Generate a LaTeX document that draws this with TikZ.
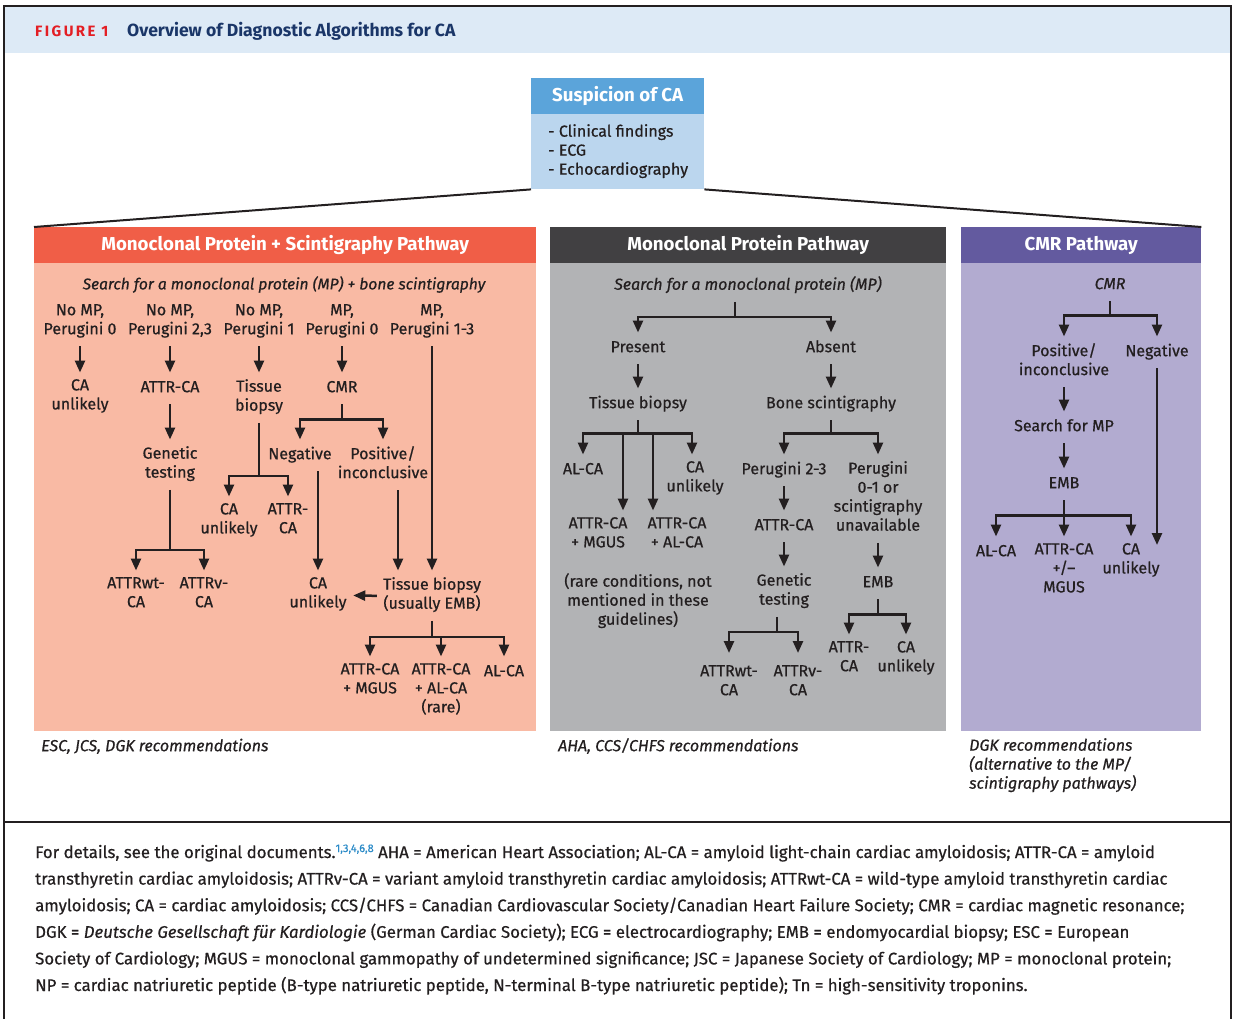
\documentclass[tikz,border=0pt]{standalone}
\usepackage{fontspec}
\setmainfont{Fira Sans}
\usetikzlibrary{arrows.meta,calc}
\definecolor{ink}{HTML}{231F20}
\definecolor{band}{HTML}{DDEAF6}
\definecolor{figred}{HTML}{E31E24}
\definecolor{navy}{HTML}{1A3668}
\definecolor{susph}{HTML}{5BA4DA}
\definecolor{suspb}{HTML}{BBD6EE}
\definecolor{ph1}{HTML}{F05E47}
\definecolor{pb1}{HTML}{F9BAA4}
\definecolor{ph2}{HTML}{414042}
\definecolor{pb2}{HTML}{B2B3B5}
\definecolor{ph3}{HTML}{635A9F}
\definecolor{pb3}{HTML}{B2ABD0}
\definecolor{supblue}{HTML}{2A8AC7}
\newcommand\mystrut{\rule[-6pt]{0pt}{19pt}}
\tikzset{
 txt/.style={font=\fontsize{16}{19}\selectfont\addfontfeatures{FakeBold=0.6}, text=ink, align=center, inner sep=0pt, anchor=north, execute at begin node=\mystrut, execute at end node=\mystrut},
 txti/.style={txt, font=\fontsize{16}{19}\selectfont\itshape\addfontfeatures{FakeBold=0.6}},
 link/.style={draw=ink, line width=2.5pt, -{Triangle[width=10pt,length=12pt]}, shorten <=6pt, shorten >=6.5pt},
 branch/.style={draw=ink, line width=2.5pt, -{Triangle[width=10pt,length=12pt]}, shorten >=6.5pt},
 stem/.style={draw=ink, line width=2.5pt, shorten <=6pt},
 boxhead/.style={anchor=north west, inner sep=0pt, text=white, font=\fontsize{18.7}{20}\selectfont\bfseries},
 boxbody/.style={anchor=north west, inner sep=0pt},
 capline/.style={anchor=base west, inner sep=0pt, text=ink, font=\fontsize{16.8}{20}\selectfont\addfontfeatures{FakeBold=0.6}},
}
\begin{document}
\begin{tikzpicture}[x=1pt,y=-1pt]
\useasboundingbox (0,0) rectangle (1236,1019);
% frame and header band
\fill[band] (4,6) rectangle (1231,53);
\draw[ink, line width=1.6pt] (4,1030) -- (4,6) -- (1231,6) -- (1231,1030);
\draw[ink, line width=1.6pt] (4,822) -- (1231,822);
\node[anchor=base west, inner sep=0pt, text=figred, font=\fontsize{15}{16}\selectfont\bfseries\addfontfeatures{LetterSpace=16}] (figlabel) at (35,37) {FIGURE 1};
\node[anchor=base west, inner sep=0pt, text=navy, font=\fontsize{17.6}{18}\selectfont\bfseries] (figtitle) at (127,37) {Overview of Diagnostic Algorithms for CA};

% suspicion box
\node[boxhead, fill=susph, minimum width=173pt, minimum height=36pt] (susph) at (531,78) {Suspicion of CA};
\node[boxbody, fill=suspb, minimum width=173pt, minimum height=75pt] (suspbody) at (531,114) {};
\node[txt, align=left, anchor=north west] (susplist) at (548,124) {- Clinical findings\\- ECG\\- Echocardiography};

% panels
\node[boxhead, fill=ph1, minimum width=502pt, minimum height=36pt] (p1head) at (34,227) {Monoclonal Protein + Scintigraphy Pathway};
\node[boxbody, fill=pb1, minimum width=502pt, minimum height=468pt] (p1body) at (34,263) {};
\node[boxhead, fill=ph2, minimum width=396pt, minimum height=36pt] (p2head) at (550,227) {Monoclonal Protein Pathway};
\node[boxbody, fill=pb2, minimum width=396pt, minimum height=468pt] (p2body) at (550,263) {};
\node[boxhead, fill=ph3, minimum width=240pt, minimum height=36pt] (p3head) at (961,227) {CMR Pathway};
\node[boxbody, fill=pb3, minimum width=240pt, minimum height=468pt] (p3body) at (961,263) {};

\draw[ink, line width=2pt] (suspbody.south west) -- (p1head.north west);
\draw[ink, line width=2pt] (suspbody.south east) -- (p3head.north east);

% ---------- panel 1 ----------
\node[txti, font=\fontsize{15.6}{19}\selectfont\itshape\addfontfeatures{FakeBold=0.6}] (s1) at (284,276) {Search for a monoclonal protein (MP) + bone scintigraphy};
\node[txt] (a1) at (80,304) {No MP,\\Perugini 0};
\node[txt] (a2) at (170,304) {No MP,\\Perugini 2,3};
\node[txt] (a3) at (259,304) {No MP,\\Perugini 1};
\node[txt] (a4) at (342,304) {MP,\\Perugini 0};
\node[txt] (a5) at (432,304) {MP,\\Perugini 1-3};
\node[txt] (b1) at (80,379) {CA\\unlikely};
\node[txt] (b2) at (170,379) {ATTR-CA};
\node[txt] (b3) at (259,379) {Tissue\\biopsy};
\node[txt] (b4) at (342,379) {CMR};
\node[txt] (c2) at (170,446) {Genetic\\testing};
\node[txt] (neg1) at (300,446) {Negative};
\node[txt] (pos1) at (383,446) {Positive/\\inconclusive};
\node[txt] (d1) at (229,503) {CA\\unlikely};
\node[txt] (d2) at (288,503) {ATTR-\\CA};
\node[txt] (e1) at (136,577) {ATTRwt-\\CA};
\node[txt] (e2) at (204,577) {ATTRv-\\CA};
\node[txt] (un1) at (318,577) {CA\\unlikely};
\node[txt] (tb) at (432,577) {Tissue biopsy\\(usually EMB)};
\node[txt] (f1) at (370,663) {ATTR-CA\\+ MGUS};
\node[txt] (f2) at (441,663) {ATTR-CA\\+ AL-CA\\(rare)};
\node[txt] (f3) at (504,663) {AL-CA};

\draw[link] (a1.south) -- (b1.north);
\draw[link] (a2.south) -- (b2.north);
\draw[link] (a3.south) -- (b3.north);
\draw[link] (a4.south) -- (b4.north);
\draw[link] (a5.south) -- (tb.north);
\draw[link] (b2.south) -- (c2.north);
\coordinate (cmrbar) at ($(b4.south)+(0,21)$);
\draw[stem] (b4.south) -- (cmrbar);
\draw[branch] (cmrbar) -| (neg1.north);
\draw[branch] (cmrbar) -| (pos1.north);
\coordinate (tisbar) at ($(b3.south)+(0,59)$);
\draw[stem] (b3.south) -- (tisbar);
\draw[branch] (tisbar) -| (d1.north);
\draw[branch] (tisbar) -| (d2.north);
\coordinate (genbar) at ($(c2.south)+(0,66)$);
\draw[stem] (c2.south) -- (genbar);
\draw[branch] (genbar) -| (e1.north);
\draw[branch] (genbar) -| (e2.north);
\draw[link] (neg1.south -| un1.north) -- (un1.north);
\coordinate (pl) at ($(pos1.south)+(15,0)$);
\draw[link] (pl) -- (pl |- tb.north);
\draw[link] (tb.west) -- (un1.east);
\coordinate (tbbar) at ($(tb.south)+(0,22)$);
\draw[stem] (tb.south) -- (tbbar);
\draw[branch] (tbbar) -| (f1.north);
\draw[branch] (tbbar) -| (f2.north);
\draw[branch] (tbbar) -| (f3.north);

% ---------- panel 2 ----------
\node[txti] (s2) at (748,276) {Search for a monoclonal protein (MP)};
\node[txt] (pr) at (638,339) {Present};
\node[txt] (ab) at (831,339) {Absent};
\node[txt] (tis2) at (638,395) {Tissue biopsy};
\node[txt] (bone) at (831,395) {Bone scintigraphy};
\node[txt] (al2) at (583,461) {AL-CA};
\node[txt] (cu2) at (695,461) {CA\\unlikely};
\node[txt] (p23) at (784,461) {Perugini 2-3};
\node[txt] (p01) at (878,461) {Perugini\\0-1 or\\scintigraphy\\unavailable};
\node[txt] (m2) at (598,517) {ATTR-CA\\+ MGUS};
\node[txt] (aa2) at (677,517) {ATTR-CA\\+ AL-CA};
\node[txt] (rare) at (638,573) {(rare conditions, not\\mentioned in these\\guidelines)};
\node[txt] (at2) at (784,517) {ATTR-CA};
\node[txt] (gen2) at (784,573) {Genetic\\testing};
\node[txt] (wt2) at (729,665) {ATTRwt-\\CA};
\node[txt] (v2) at (798,665) {ATTRv-\\CA};
\node[txt] (emb2) at (878,574) {EMB};
\node[txt] (at2b) at (849,641) {ATTR-\\CA};
\node[txt] (cu2b) at (906,641) {CA\\unlikely};

\coordinate (s2bar) at ($(s2.south)+(-13,21)$);
\draw[stem] ($(s2.south)+(-13,0)$) -- (s2bar);
\draw[branch] (s2bar) -| (pr.north);
\draw[branch] (s2bar) -| (ab.north);
\draw[link] (pr.south) -- (tis2.north);
\draw[link] (ab.south) -- (bone.north);
\coordinate (tis2bar) at ($(tis2.south)+(0,19)$);
\draw[stem] (tis2.south) -- (tis2bar);
\draw[branch] (tis2bar) -| (al2.north);
\draw[branch] (tis2bar) -| ([xshift=-3pt]cu2.north);
\coordinate (lm) at ($(tis2bar)+(-15,0)$);
\coordinate (la) at ($(tis2bar)+(15,0)$);
\draw[branch] (lm) -- (lm |- m2.north);
\draw[branch] (la) -- (la |- aa2.north);
\coordinate (bonebar) at ($(bone.south)+(0,19)$);
\draw[stem] (bone.south) -- (bonebar);
\draw[branch] (bonebar) -| (p23.north);
\draw[branch] (bonebar) -| (p01.north);
\draw[link] (p23.south) -- (at2.north);
\draw[link] (at2.south) -- (gen2.north);
\coordinate (gen2top) at ($(gen2.south)+(-7,0)$);
\coordinate (gen2bar) at ($(gen2.south)+(-7,21)$);
\draw[stem] (gen2top) -- (gen2bar);
\draw[branch, shorten >=12pt] (gen2bar) -| (wt2.north);
\draw[branch, shorten >=12pt] (gen2bar) -| (v2.north);
\draw[link] (p01.south) -- (emb2.north);
\coordinate (emb2bar) at ($(emb2.south)+(0,21)$);
\draw[stem] (emb2.south) -- (emb2bar);
\draw[branch] (emb2bar) -| (at2b.north);
\draw[branch] (emb2bar) -| (cu2b.north);

% ---------- panel 3 ----------
\node[txti] (s3) at (1110,276) {CMR};
\node[txt] (po3) at (1064,343) {Positive/\\inconclusive};
\node[txt] (ng3) at (1157,343) {Negative};
\node[txt] (sm3) at (1064,418) {Search for MP};
\node[txt] (emb3) at (1064,475) {EMB};
\node[txt] (al3) at (996,543) {AL-CA};
\node[txt] (at3) at (1064,543) {ATTR-CA\\+/–\\MGUS};
\node[txt] (cu3) at (1131,543) {CA\\unlikely};

\coordinate (s3bar) at ($(s3.south)+(0,20)$);
\draw[stem] (s3.south) -- (s3bar);
\draw[branch] (s3bar) -| (po3.north);
\draw[branch] (s3bar) -| (ng3.north);
\draw[link] (po3.south) -- (sm3.north);
\draw[link] (sm3.south) -- (emb3.north);
\coordinate (emb3bar) at ($(emb3.south)+(0,21)$);
\draw[stem] (emb3.south) -- (emb3bar);
\draw[branch] (emb3bar) -| (al3.north);
\draw[branch] (emb3bar) -| (at3.north);
\draw[branch] (emb3bar) -| (cu3.north);
\coordinate (ngend) at ($(ng3.south |- cu3.north)+(0,2)$);
\draw[link, shorten >=0pt] (ng3.south) -- (ngend);

% recommendations
\node[txti, anchor=north west] (r1) at (41,738) {ESC, JCS, DGK recommendations};
\node[txti, anchor=north west] (r2) at (558,738) {AHA, CCS/CHFS recommendations};
\node[txti, anchor=north west, align=left] (r3) at (969,738) {DGK recommendations\\(alternative to the MP/\\scintigraphy pathways)};

% caption
\node[capline] (cap1) at (35,858) {For details, see the original documents.\raisebox{6pt}{\fontsize{11}{11}\selectfont\color{supblue}1,3,4,6,8} AHA = American Heart Association; AL-CA = amyloid light-chain cardiac amyloidosis; ATTR-CA = amyloid};
\node[capline] (cap2) at (35,884.6) {transthyretin cardiac amyloidosis; ATTRv-CA = variant amyloid transthyretin cardiac amyloidosis; ATTRwt-CA = wild-type amyloid transthyretin cardiac};
\node[capline] (cap3) at (35,911.2) {amyloidosis; CA = cardiac amyloidosis; CCS/CHFS = Canadian Cardiovascular Society/Canadian Heart Failure Society; CMR = cardiac magnetic resonance;};
\node[capline] (cap4) at (35,937.8) {DGK = \textit{Deutsche Gesellschaft für Kardiologie} (German Cardiac Society); ECG = electrocardiography; EMB = endomyocardial biopsy; ESC = European};
\node[capline] (cap5) at (35,964.4) {Society of Cardiology; MGUS = monoclonal gammopathy of undetermined significance; JSC = Japanese Society of Cardiology; MP = monoclonal protein;};
\node[capline] (cap6) at (35,991) {NP = cardiac natriuretic peptide (B-type natriuretic peptide, N-terminal B-type natriuretic peptide); Tn = high-sensitivity troponins.};
\end{tikzpicture}
\end{document}
